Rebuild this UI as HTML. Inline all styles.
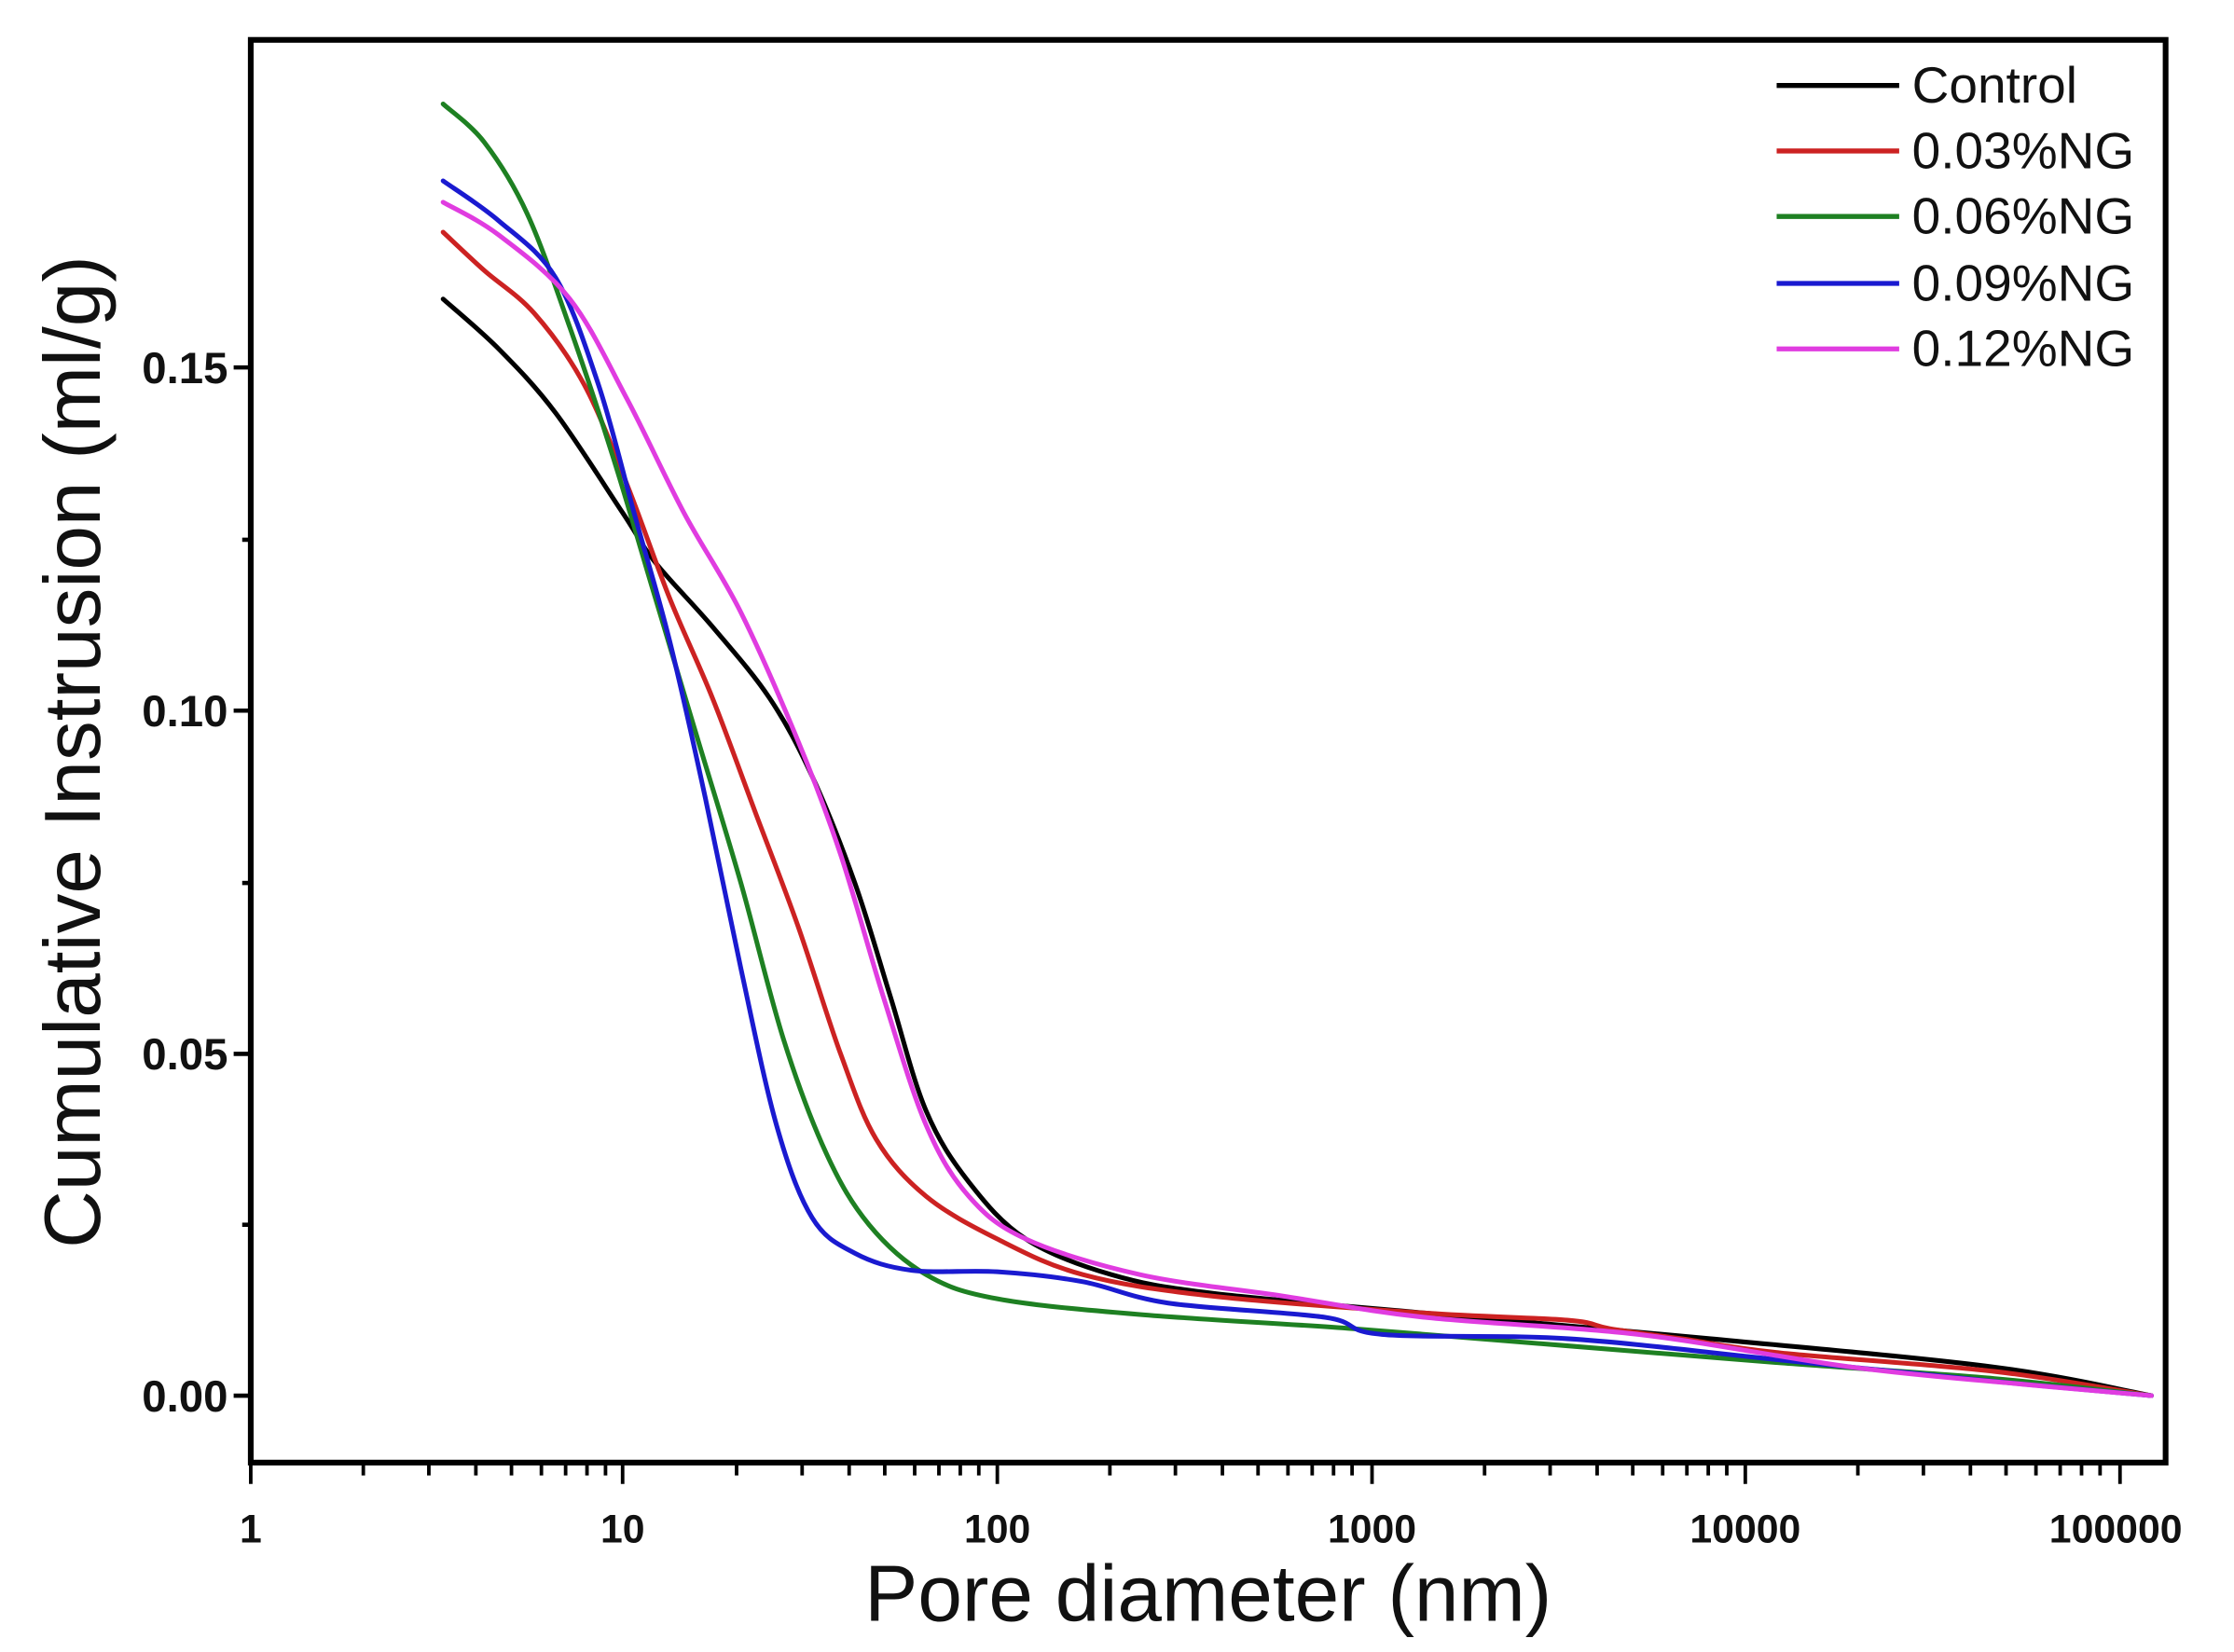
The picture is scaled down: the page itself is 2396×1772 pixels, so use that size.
<!DOCTYPE html>
<html><head><meta charset="utf-8"><style>html,body{margin:0;padding:0;background:#fff}svg{display:block}</style></head>
<body>
<svg id="s" width="2396" height="1772" viewBox="0 0 1568 1160" preserveAspectRatio="none" xmlns="http://www.w3.org/2000/svg" font-family="Liberation Sans, Arial, sans-serif">
<rect width="1568" height="1160" fill="#fff"/>
<g fill="none" stroke-linejoin="round" stroke-linecap="round" stroke-width="3.3">
<polyline class="c" stroke="#000" points="311,210 350,245 390,290 437,360 460,395 500,440 540,490 570,545 600,620 625,700 650,780 680,830 720,870 780,895 850,908 1000,922 1200,940 1400,960 1510,980"/>
<polyline class="c" stroke="#cc2222" points="311,163 340,190 375,220 410,270 440,340 470,420 500,490 530,570 560,650 590,740 615,800 650,840 700,870 760,895 850,910 1000,922 1100,927 1130,933 1180,940 1250,950 1400,963 1510,980"/>
<polyline class="c" stroke="#1e8022" points="311,73 340,100 370,150 400,230 430,320 460,420 490,520 520,620 550,730 580,810 610,860 650,895 700,912 800,923 950,933 1100,945 1250,957 1400,968 1510,980"/>
<polyline class="c" stroke="#1a1ad0" points="311,127 350,155 390,195 420,270 445,360 470,450 495,560 520,680 545,790 570,855 600,880 640,892 700,893 760,900 820,915 930,925 970,937 1100,940 1250,955 1400,970 1510,980"/>
<polyline class="c" stroke="#e03ce0" points="311,142 350,165 400,210 440,280 480,360 520,430 560,520 590,600 620,700 650,790 680,840 720,870 800,895 900,910 1000,925 1150,937 1300,960 1420,972 1510,980"/>
</g>
<rect x="176" y="28" width="1344" height="999" fill="none" stroke="#000" stroke-width="4"/>
<g stroke="#000" stroke-width="3">
<line x1="164" y1="258" x2="176" y2="258"/><line x1="164" y1="499" x2="176" y2="499"/><line x1="164" y1="740" x2="176" y2="740"/><line x1="164" y1="980" x2="176" y2="980"/>
<line x1="170" y1="379" x2="176" y2="379"/><line x1="170" y1="620" x2="176" y2="620"/><line x1="170" y1="860" x2="176" y2="860"/>
</g>
<g font-weight="bold" font-size="31" text-anchor="end" fill="#111">
<text x="160" y="269">0.15</text><text x="160" y="510">0.10</text><text x="160" y="751">0.05</text><text x="160" y="991">0.00</text>
</g>
<g font-weight="bold" font-size="28" text-anchor="middle" fill="#111">
<text x="176" y="1083">1</text><text x="437" y="1083">10</text><text x="700" y="1083">100</text><text x="963" y="1083">1000</text><text x="1225" y="1083">10000</text><text x="1485" y="1083">100000</text>
</g>
<text x="848" y="1138" font-size="56" text-anchor="middle" fill="#111">Pore diameter (nm)</text>
<text transform="translate(70,528) rotate(-90)" font-size="56" text-anchor="middle" fill="#111">Cumulative Instrusion (ml/g)</text>
<g stroke-width="3.5">
<line x1="1247" y1="60" x2="1333" y2="60" stroke="#000"/>
<line x1="1247" y1="106" x2="1333" y2="106" stroke="#cc2222"/>
<line x1="1247" y1="152" x2="1333" y2="152" stroke="#1e8022"/>
<line x1="1247" y1="199" x2="1333" y2="199" stroke="#1a1ad0"/>
<line x1="1247" y1="245" x2="1333" y2="245" stroke="#e03ce0"/>
</g>
<g font-size="36" fill="#111">
<text x="1342" y="72">Control</text><text x="1342" y="118">0.03%NG</text><text x="1342" y="164">0.06%NG</text><text x="1342" y="211">0.09%NG</text><text x="1342" y="257">0.12%NG</text>
</g>
<path stroke="#000" stroke-width="2.5" fill="none" d="
M176,1027V1042 M437,1027V1042 M700,1027V1042 M963,1027V1042 M1225,1027V1042 M1488,1027V1042
M255,1027v9 M301,1027v9 M334,1027v9 M359,1027v9 M380,1027v9 M397,1027v9 M412,1027v9 M425,1027v9
M517,1027v9 M563,1027v9 M596,1027v9 M621,1027v9 M642,1027v9 M659,1027v9 M674,1027v9 M687,1027v9
M779,1027v9 M825,1027v9 M858,1027v9 M883,1027v9 M904,1027v9 M921,1027v9 M936,1027v9 M949,1027v9
M1042,1027v9 M1088,1027v9 M1121,1027v9 M1146,1027v9 M1167,1027v9 M1184,1027v9 M1199,1027v9 M1212,1027v9
M1304,1027v9 M1350,1027v9 M1383,1027v9 M1408,1027v9 M1429,1027v9 M1446,1027v9 M1461,1027v9 M1474,1027v9"/>
</svg>
<script>
document.querySelectorAll('polyline.c').forEach(function(pl){
  var p=pl.getAttribute('points').trim().split(/\s+/).map(function(s){return s.split(',').map(Number);});
  var d='M'+p[0][0]+','+p[0][1];
  for(var i=0;i<p.length-1;i++){
    var p0=p[i-1]||p[i],p1=p[i],p2=p[i+1],p3=p[i+2]||p2;
    var c1x=p1[0]+(p2[0]-p0[0])/6,c1y=p1[1]+(p2[1]-p0[1])/6;
    var c2x=p2[0]-(p3[0]-p1[0])/6,c2y=p2[1]-(p3[1]-p1[1])/6;
    d+=' C'+c1x.toFixed(1)+','+c1y.toFixed(1)+' '+c2x.toFixed(1)+','+c2y.toFixed(1)+' '+p2[0]+','+p2[1];
  }
  var path=document.createElementNS('http://www.w3.org/2000/svg','path');
  path.setAttribute('d',d);path.setAttribute('stroke',pl.getAttribute('stroke'));
  pl.parentNode.replaceChild(path,pl);
});
</script>
</body></html>
